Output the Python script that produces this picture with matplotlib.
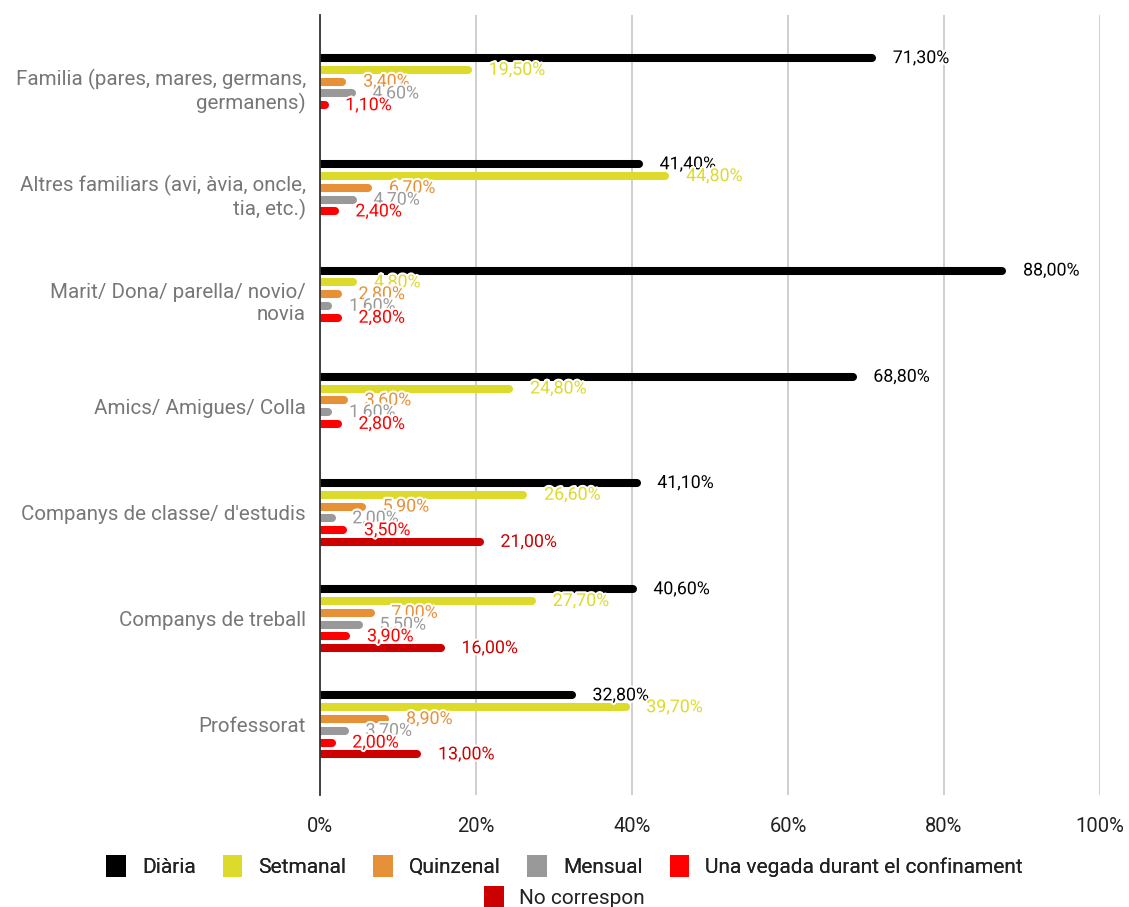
import numpy as np
import matplotlib
matplotlib.use("Agg")
import matplotlib.pyplot as plt
import matplotlib.patheffects as pe
from matplotlib.patches import Patch
from matplotlib.transforms import offset_copy

plt.rcParams['font.family'] = ['Roboto', 'DejaVu Sans']

categories = [
    "Familia (pares, mares, germans,\ngermanens)",
    "Altres familiars (avi, àvia, oncle,\ntia, etc.)",
    "Marit/ Dona/ parella/ novio/\nnovia",
    "Amics/ Amigues/ Colla",
    "Companys de classe/ d'estudis",
    "Companys de treball",
    "Professorat",
]
series = ["Diària", "Setmanal", "Quinzenal", "Mensual",
          "Una vegada durant el confinament", "No correspon"]
colors = ["#000000", "#dcdb2c", "#e69138", "#999999", "#ff0000", "#cc0000"]

diaria = [71.3, 41.4, 88.0, 68.8, 41.1, 40.6, 32.8]
setmanal = [19.5, 44.8, 4.8, 24.8, 26.6, 27.7, 39.7]
quinzenal = [3.4, 6.7, 2.8, 3.6, 5.9, 7.0, 8.9]
mensual = [4.6, 4.7, 1.6, 1.6, 2.0, 5.5, 3.7]
una_vegada = [1.1, 2.4, 2.8, 2.8, 3.5, 3.9, 2.0]
no_correspon = [None, None, None, None, 21.0, 16.0, 13.0]

values = [diaria, setmanal, quinzenal, mensual, una_vegada, no_correspon]

fig = plt.figure(figsize=(11.29, 9.07), dpi=100)
ax = fig.add_axes([320 / 1129, 1 - 795 / 907, 780 / 1129, 780 / 907])

# round caps stick out by half the line width, so pull the lines back by that much
bar_lw = 5.8
bar_trans = offset_copy(ax.transData, fig=fig, x=-bar_lw / 2, y=0, units='points')

step = 0.111
for j, (vals, col) in enumerate(zip(values, colors)):
    for i, v in enumerate(vals):
        if v is None:
            continue
        y = i + (j - 2.5) * step
        ax.hlines(y, 0, v, colors=col, linewidth=bar_lw, capstyle='round',
                  transform=bar_trans, zorder=3)
        ax.annotate(f"{v:.2f}".replace('.', ',') + '%', (v, y),
                    xytext=(12, 0), textcoords='offset points',
                    ha='left', va='center', fontsize=12.8, color=col, zorder=4,
                    path_effects=[pe.withStroke(linewidth=3, foreground='white')])

ax.set_xlim(0, 100)
ax.set_ylim(6.66, -0.683)
ax.set_xticks(np.arange(0, 101, 20))
ax.set_xticklabels([f"{t}%" for t in range(0, 101, 20)], fontsize=14.5, color='#222222')
ax.set_yticks(range(len(categories)))
ax.set_yticklabels(categories, fontsize=14.8, color='#777777', linespacing=1.2)
ax.tick_params(axis='both', length=0)
ax.tick_params(axis='x', pad=16)
ax.tick_params(axis='y', pad=10)

ax.grid(axis='x', color='#cccccc', linewidth=1.3, zorder=0)
ax.set_axisbelow(True)
for s in ['top', 'right', 'bottom']:
    ax.spines[s].set_visible(False)
ax.spines['left'].set_color('#333333')
ax.spines['left'].set_linewidth(1.3)
ax.spines['left'].set_zorder(5)

handles = [Patch(facecolor=c, edgecolor='none') for c in colors]
leg_kw = dict(frameon=False, fontsize=15, handlelength=0.95, handleheight=1.3,
              handletextpad=0.75, labelcolor='#222222')
leg1 = fig.legend(handles[:5], series[:5], loc='center', bbox_to_anchor=(0.5, 1 - 866 / 907),
                  ncol=5, columnspacing=1.3, **leg_kw)
leg2 = fig.legend(handles[5:], series[5:], loc='center', bbox_to_anchor=(0.5, 1 - 897 / 907),
                  ncol=1, **leg_kw)
fig.add_artist(leg1)

fig.savefig("out.png", dpi=100)
